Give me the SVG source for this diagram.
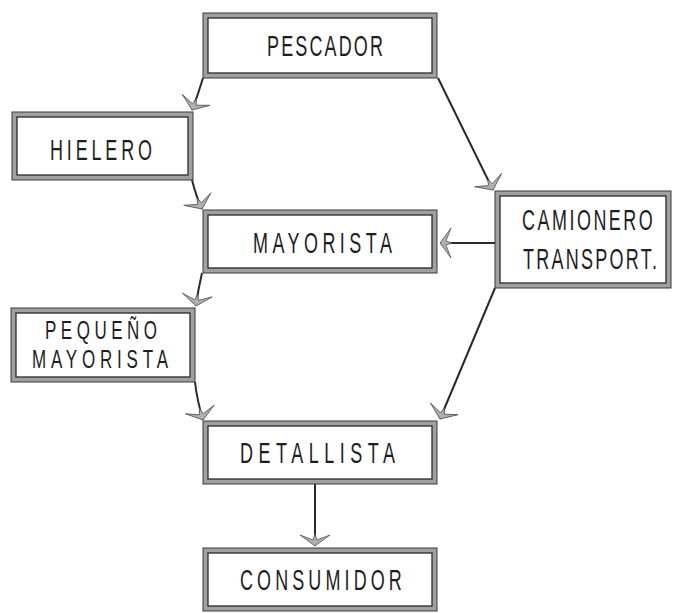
<svg xmlns="http://www.w3.org/2000/svg" width="673" height="613" viewBox="0 0 673 613">
<style>
.band{fill:#fff;stroke:#a0a0a0;stroke-width:5}
.edge{fill:none;stroke:#3a3a3a;stroke-width:1}
.inner{fill:none;stroke:#2a2a2a;stroke-width:1.3}
.lbl{font-family:"Liberation Sans",Arial,sans-serif;font-size:29px;fill:#1e1e1e}
.sm{font-size:25px}
.conn{fill:none;stroke:#2a2a2a;stroke-width:2}
</style>
<defs>
<marker id="ah" markerUnits="userSpaceOnUse" viewBox="-13 -16 15 32" refX="0" refY="0" markerWidth="15" markerHeight="32" orient="auto">
<path d="M0,0 L-11,-15 L-6,-2 L-12,0 L-6,2 L-11,15 Z" fill="#b0b0b0" stroke="#555" stroke-width="0.8"/>
</marker>
</defs>
<rect width="673" height="613" fill="#fff"/>
<g id="connectors">
<path class="conn" d="M203,78 Q198,95 192,110" marker-end="url(#ah)"/>
<path class="conn" d="M192,180 Q196,196 202,209" marker-end="url(#ah)"/>
<path class="conn" d="M202,273 Q198,290 196,306" marker-end="url(#ah)"/>
<path class="conn" d="M195,382 Q197,400 203,420" marker-end="url(#ah)"/>
<path class="conn" d="M438,78 L493,190" marker-end="url(#ah)"/>
<path class="conn" d="M495,243 L440,243" marker-end="url(#ah)"/>
<path class="conn" d="M495,288 L440,419" marker-end="url(#ah)"/>
<path class="conn" d="M315,484 L315,546" marker-end="url(#ah)"/>
</g>
<g id="pescador">
<rect class="band" x="205.5" y="15.5" width="229" height="60"/>
<rect class="edge" x="203" y="13" width="234" height="65"/>
<rect class="inner" x="208" y="18" width="224" height="55"/>
<text class="lbl" transform="translate(267,56) scale(0.62,1)" x="0" y="0" textLength="187" lengthAdjust="spacing">PESCADOR</text>
</g>
<g id="hielero">
<rect class="band" x="14.5" y="114.5" width="176" height="63"/>
<rect class="edge" x="12" y="112" width="181" height="68"/>
<rect class="inner" x="17" y="117" width="171" height="58"/>
<text class="lbl" transform="translate(50,160) scale(0.62,1)" x="0" y="0" textLength="164.5" lengthAdjust="spacing">HIELERO</text>
</g>
<g id="mayorista">
<rect class="band" x="205.5" y="212.5" width="229" height="58"/>
<rect class="edge" x="203" y="210" width="234" height="63"/>
<rect class="inner" x="208" y="215" width="224" height="53"/>
<text class="lbl" transform="translate(253,253) scale(0.62,1)" x="0" y="0" textLength="224" lengthAdjust="spacing">MAYORISTA</text>
</g>
<g id="camionero">
<rect class="band" x="497.5" y="193.5" width="171" height="92"/>
<rect class="edge" x="495" y="191" width="176" height="97"/>
<rect class="inner" x="500" y="196" width="166" height="87"/>
<text class="lbl" transform="translate(522,230) scale(0.62,1)" x="0" y="0" textLength="211" lengthAdjust="spacing">CAMIONERO</text>
<text class="lbl" transform="translate(523,269) scale(0.62,1)" x="0" y="0" textLength="216" lengthAdjust="spacing">TRANSPORT.</text>
</g>
<g id="pequeno-mayorista">
<rect class="band" x="13.5" y="310.5" width="179" height="69"/>
<rect class="edge" x="11" y="308" width="184" height="74"/>
<rect class="inner" x="16" y="313" width="174" height="64"/>
<text class="lbl sm" transform="translate(45,339) scale(0.68,1)" x="0" y="0" textLength="164.7" lengthAdjust="spacing">PEQUEÑO</text>
<text class="lbl sm" transform="translate(32,368) scale(0.68,1)" x="0" y="0" textLength="200" lengthAdjust="spacing">MAYORISTA</text>
</g>
<g id="detallista">
<rect class="band" x="205.5" y="423.5" width="229" height="58"/>
<rect class="edge" x="203" y="421" width="234" height="63"/>
<rect class="inner" x="208" y="426" width="224" height="53"/>
<text class="lbl" transform="translate(240,463) scale(0.62,1)" x="0" y="0" textLength="250" lengthAdjust="spacing">DETALLISTA</text>
</g>
<g id="consumidor">
<rect class="band" x="205.5" y="550.5" width="229" height="58"/>
<rect class="edge" x="203" y="548" width="234" height="63"/>
<rect class="inner" x="208" y="553" width="224" height="53"/>
<text class="lbl" transform="translate(240,590) scale(0.62,1)" x="0" y="0" textLength="261" lengthAdjust="spacing">CONSUMIDOR</text>
</g>
</svg>
